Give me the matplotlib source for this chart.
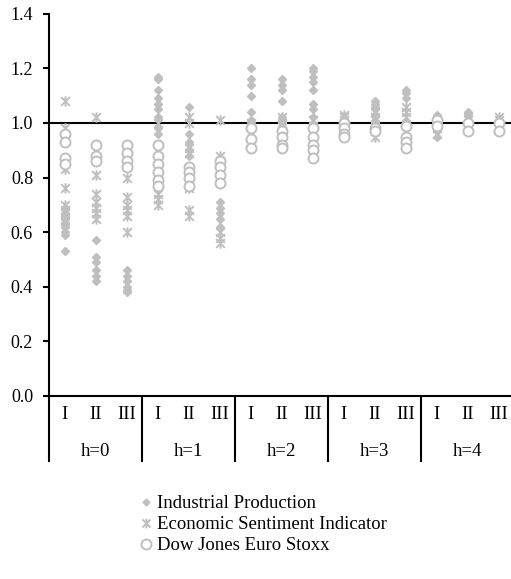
import numpy as np
import matplotlib.pyplot as plt
from matplotlib.path import Path
from matplotlib.lines import Line2D
import matplotlib.transforms as mtransforms

plt.rcParams['font.family'] = ['Liberation Serif', 'DejaVu Serif']

groups = ['h=0', 'h=1', 'h=2', 'h=3', 'h=4']
subcats = ['I', 'II', 'III']

# one list per (horizon, sub-period) column
ip_vals = [
    [0.53, 0.59, 0.60, 0.62, 0.63, 0.65, 0.67, 0.69],
    [0.57, 0.51, 0.49, 0.46, 0.44, 0.42],
    [0.46, 0.44, 0.42, 0.40, 0.39, 0.38],
    [1.17, 1.16, 1.12, 1.09, 1.07, 1.05, 1.02, 0.98, 0.96],
    [1.06, 0.96, 0.93, 0.90, 0.88],
    [0.71, 0.69, 0.67, 0.65, 0.62],
    [1.20, 1.16, 1.14, 1.10, 1.04, 1.01],
    [1.16, 1.14, 1.12, 1.08, 1.02, 1.00],
    [1.20, 1.19, 1.17, 1.15, 1.12, 1.07, 1.05, 1.02],
    [1.01, 1.00, 0.98],
    [1.08, 1.07, 1.06, 1.05, 1.03, 1.00, 0.98],
    [1.12, 1.11, 1.09, 1.00],
    [1.03, 1.02, 1.00, 0.97, 0.95],
    [1.04, 1.03, 1.01, 0.99],
    [1.01, 1.00],
]
esi_vals = [
    [1.08, 0.98, 0.83, 0.76, 0.70, 0.68, 0.67, 0.65, 0.64],
    [1.02, 0.81, 0.74, 0.71, 0.69, 0.67, 0.65],
    [0.80, 0.73, 0.70, 0.68, 0.66, 0.60],
    [1.00, 0.74, 0.72, 0.70],
    [1.02, 1.00, 0.91, 0.89, 0.76, 0.68, 0.66],
    [1.01, 0.88, 0.86, 0.60, 0.58, 0.56],
    [1.00, 0.99],
    [1.02, 1.00, 0.99],
    [1.01, 0.99],
    [1.03, 1.02, 1.01],
    [1.04, 1.02, 1.01, 0.99, 0.97, 0.95],
    [1.06, 1.04, 1.02],
    [1.01, 0.98, 0.96],
    [1.02, 1.01],
    [1.02, 1.01],
]
dj_vals = [
    [0.96, 0.93, 0.87, 0.85],
    [0.92, 0.88, 0.86],
    [0.92, 0.89, 0.86, 0.84],
    [0.92, 0.88, 0.85, 0.82, 0.79, 0.77],
    [0.84, 0.82, 0.80, 0.77],
    [0.86, 0.84, 0.81, 0.78],
    [0.98, 0.94, 0.91],
    [0.97, 0.95, 0.92, 0.91],
    [0.98, 0.95, 0.92, 0.90, 0.87],
    [1.00, 0.98, 0.96, 0.95],
    [0.98, 0.97],
    [0.99, 0.95, 0.93, 0.91],
    [1.01, 0.99],
    [1.00, 0.97],
    [1.00, 0.97],
]

grey = '#BFBFBF'

# Excel-style star: an X with a vertical bar through it
star = Path([(-1, -1), (1, 1), (-1, 1), (1, -1), (0, -1.2), (0, 1.2)],
            [Path.MOVETO, Path.LINETO, Path.MOVETO, Path.LINETO, Path.MOVETO, Path.LINETO])


def flatten(vals):
    xs, ys = [], []
    for i, col in enumerate(vals):
        xs += [i + 0.5] * len(col)
        ys += col
    return xs, ys


fig = plt.figure(figsize=(5.11, 5.79), dpi=100)
W, H = 511, 579
ax = fig.add_axes([49 / W, (H - 396) / H, 465 / W, (396 - 13.7) / H])
ax.set_xlim(0, 15)
ax.set_ylim(0, 1.4)

ax.axhline(1.0, color='black', lw=1.5, zorder=2)

x, y = flatten(ip_vals)
ax.plot(x, y, ls='none', marker='D', ms=4.2, mfc=grey, mec=grey, zorder=3)
x, y = flatten(esi_vals)
ax.plot(x, y, ls='none', marker=star, ms=7.5, mec=grey, mew=1.4, zorder=4)
x, y = flatten(dj_vals)
ax.plot(x, y, ls='none', marker='o', ms=7.2, mfc='white', mec=grey, mew=1.4, zorder=5)

for s in ['top', 'right']:
    ax.spines[s].set_visible(False)
ax.spines['left'].set_linewidth(1.5)
ax.spines['bottom'].set_linewidth(1.5)
ax.set_yticks(np.arange(0, 1.41, 0.2))
ax.set_yticklabels([f'{v:.1f}' for v in np.arange(0, 1.41, 0.2)])
ax.tick_params(axis='y', direction='out', length=4.5, width=1.5, labelsize=13, pad=7)
ax.set_xticks([])

# two-level category axis below the plot
trans = mtransforms.blended_transform_factory(ax.transData, ax.transAxes)
depth = -65 / 383
for g in range(len(groups) + 1):
    ax.plot([3 * g, 3 * g], [0, depth], color='black', lw=1.5,
            transform=trans, clip_on=False)
for g, name in enumerate(groups):
    for k, sc in enumerate(subcats):
        ax.text(3 * g + k + 0.5, -19 / 383, sc, transform=trans,
                ha='center', va='center', fontsize=13.5)
    ax.text(3 * g + 1.5, -56 / 383, name, transform=trans,
            ha='center', va='center', fontsize=13.5)

handles = [
    Line2D([], [], ls='none', marker='D', ms=3.5, mfc=grey, mec=grey),
    Line2D([], [], ls='none', marker=star, ms=7, mec=grey, mew=1.4),
    Line2D([], [], ls='none', marker='o', ms=7.2, mfc='white', mec=grey, mew=1.4),
]
labels = ['Industrial Production', 'Economic Sentiment Indicator', 'Dow Jones Euro Stoxx']
fig.legend(handles, labels, loc='upper left', bbox_to_anchor=(129 / W, 1 - 486 / H),
           frameon=False, fontsize=13.5, handlelength=0.8, handletextpad=0.2,
           labelspacing=0.2, borderpad=0)

fig.savefig('out.png', dpi=100)
